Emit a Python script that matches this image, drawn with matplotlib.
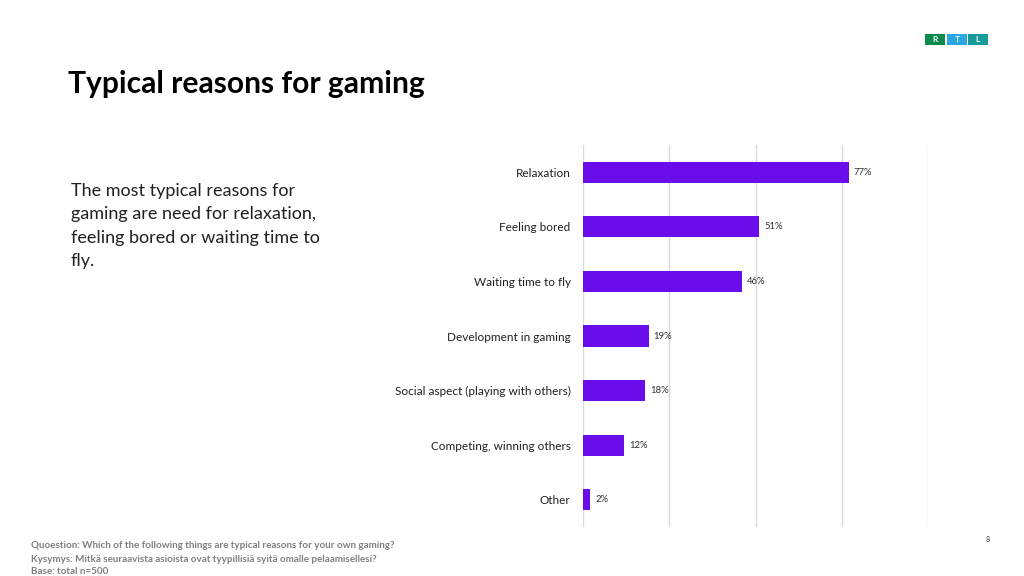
import matplotlib.pyplot as plt
from matplotlib.patches import Rectangle

plt.rcParams['font.family'] = ['Lato', 'DejaVu Sans']

categories = ["Relaxation", "Feeling bored", "Waiting time to fly", "Development in gaming",
              "Social aspect (playing with others)", "Competing, winning others", "Other"]
values = [77, 51, 46, 19, 18, 12, 2]
ticks = [0, 25, 50, 75, 100]

bar_color = "#6A0DEA"

fig = plt.figure(figsize=(10.24, 5.76), dpi=100)
W, H = 1024, 576

# chart area (pixel coords from the reference)
ax = fig.add_axes([583 / W, 1 - 527 / H, (928 - 583) / W, (527 - 145) / H])
ypos = list(range(len(categories)))
ax.barh(ypos, values, height=0.39, color=bar_color, zorder=3)
ax.set_xlim(0, 100)
ax.set_ylim(6.5, -0.5)
ax.set_xticks(ticks)
ax.set_xticklabels([])
ax.tick_params(axis='both', length=0)
ax.set_yticks(ypos)
ax.set_yticklabels(categories, fontsize=8.5, color="#202020")
ax.tick_params(axis='y', pad=9)
ax.grid(axis='x', color="#d9d9d9", linewidth=1, zorder=0)
for s in ax.spines.values():
    s.set_visible(False)
for y, v in zip(ypos, values):
    ax.text(v + 1.5, y, f"{v}%", va='center', ha='left', fontsize=6.8, color="#303030")

# title and description
fig.text(68 / W, 1 - 84 / H, "Typical reasons for gaming", fontsize=21.6, fontweight='bold',
         va='center', ha='left', color="#000000")
fig.text(71 / W, 1 - 183 / H,
         "The most typical reasons for\ngaming are need for relaxation,\nfeeling bored or waiting time to\nfly.",
         fontsize=13, va='top', ha='left', color="#202020", linespacing=1.56)

# footnotes
notes = ["Quoestion: Which of the following things are typical reasons for your own gaming?",
         "Kysymys: Mitkä seuraavista asioista ovat tyypillisiä syitä omalle pelaamisellesi?",
         "Base: total n=500"]
for yy, note in zip([545, 559, 572], notes):
    fig.text(31 / W, 1 - yy / H, note, fontsize=7.1, fontweight='bold', color="#808080", va='center')
fig.text(988 / W, 1 - 540 / H, "8", fontsize=5, color="#303030", ha='center', va='center')

# RTL logo
logo = [("R", "#0B8A4C", 925), ("T", "#2AA7E0", 947), ("L", "#179A9A", 968)]
for letter, col, x0 in logo:
    fig.patches.append(Rectangle((x0 / W, 1 - 45 / H), 20 / W, 11 / H, transform=fig.transFigure,
                                 facecolor=col, edgecolor='none'))
    fig.text((x0 + 10) / W, 1 - 39.5 / H, letter, fontsize=6, fontweight='bold', color="white",
             ha='center', va='center')

fig.savefig("out.png", dpi=100)
